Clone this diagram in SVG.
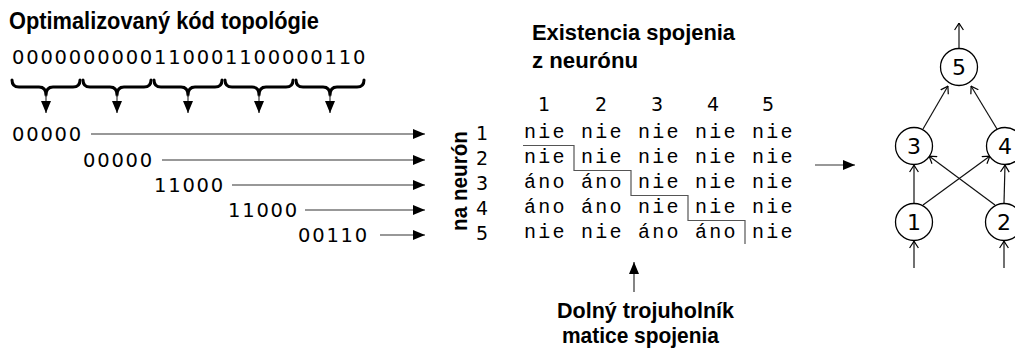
<svg xmlns="http://www.w3.org/2000/svg" width="1015" height="353" viewBox="0 0 1015 353">
  <style>
    .sans { font-family: "Liberation Sans", Arial, sans-serif; font-weight: bold; fill: #000; }
    .dig { font-family: "DejaVu Sans", sans-serif; font-size: 19.5px; letter-spacing: 1.8px; fill: #000; }
    .hdr { font-family: "DejaVu Sans", sans-serif; font-size: 19px; fill: #000; text-anchor: middle; }
    .mat { font-family: "Liberation Mono", "Courier New", monospace; font-size: 20px; letter-spacing: 2.25px; fill: #000; }
    .lbl { font-family: "DejaVu Sans", sans-serif; font-size: 22px; fill: #000; text-anchor: middle; }
    .brace { fill: none; stroke: #000; stroke-width: 3; stroke-linecap: round; stroke-linejoin: round; }
    .shaft { fill: none; stroke: #333; stroke-width: 1.2; }
    .edge { fill: none; stroke: #111; stroke-width: 1.2; }
    .node { fill: #fff; stroke: #000; stroke-width: 1.3; }
    .stair { fill: none; stroke: #555; stroke-width: 1.2; }
  </style>
  <defs>
    <marker id="fa" viewBox="0 0 12 10" refX="12" refY="5" markerWidth="12" markerHeight="10" markerUnits="userSpaceOnUse" orient="auto">
      <path d="M0,0 L12,5 L0,10 z" fill="#000"/>
    </marker>
    <marker id="oa" viewBox="0 0 8 10" refX="7.6" refY="5" markerWidth="8" markerHeight="10" markerUnits="userSpaceOnUse" orient="auto">
      <path d="M0.6,0.6 L7.4,5 L0.6,9.4" fill="none" stroke="#000" stroke-width="1.2"/>
    </marker>
    <path id="brace" d="M0,80 Q0,87 7,87 L27,87 Q34,87 34,95 Q34,87 41,87 L61,87 Q68,87 68,80"/>
  </defs>

  <!-- topology code -->
  <g id="code">
    <text class="sans" x="9" y="29" font-size="23" textLength="310" lengthAdjust="spacingAndGlyphs">Optimalizovaný kód topológie</text>
    <text class="dig" x="12" y="64">0000000000110001100000110</text>
  </g>

  <!-- split into five chunks -->
  <g id="split">
    <use href="#brace" class="brace" x="12"/>
    <use href="#brace" class="brace" x="83"/>
    <use href="#brace" class="brace" x="154"/>
    <use href="#brace" class="brace" x="225"/>
    <use href="#brace" class="brace" x="296"/>
    <line class="shaft" x1="46" y1="95" x2="46" y2="113" marker-end="url(#fa)"/>
    <line class="shaft" x1="117" y1="95" x2="117" y2="113" marker-end="url(#fa)"/>
    <line class="shaft" x1="188" y1="95" x2="188" y2="113" marker-end="url(#fa)"/>
    <line class="shaft" x1="259" y1="95" x2="259" y2="113" marker-end="url(#fa)"/>
    <line class="shaft" x1="330" y1="95" x2="330" y2="113" marker-end="url(#fa)"/>
  </g>

  <!-- chunks, one per target neuron -->
  <g id="chunks">
    <text class="dig" x="12" y="141">00000</text>
    <text class="dig" x="83" y="167">00000</text>
    <text class="dig" x="154" y="192">11000</text>
    <text class="dig" x="228" y="217">11000</text>
    <text class="dig" x="298" y="242">00110</text>
  </g>
  <g id="chunk-arrows">
    <line class="shaft" x1="91" y1="134" x2="425" y2="134" marker-end="url(#fa)"/>
    <line class="shaft" x1="162" y1="160" x2="425" y2="160" marker-end="url(#fa)"/>
    <line class="shaft" x1="232" y1="185" x2="425" y2="185" marker-end="url(#fa)"/>
    <line class="shaft" x1="305" y1="210" x2="425" y2="210" marker-end="url(#fa)"/>
    <line class="shaft" x1="380" y1="235" x2="425" y2="235" marker-end="url(#fa)"/>
  </g>

  <!-- connection matrix -->
  <g id="matrix">
    <text class="sans" x="532" y="40" font-size="22" textLength="203" lengthAdjust="spacingAndGlyphs">Existencia spojenia</text>
    <text class="sans" x="532" y="68" font-size="22" textLength="106" lengthAdjust="spacingAndGlyphs">z neurónu</text>
    <text class="hdr" x="544" y="111">1</text>
    <text class="hdr" x="601" y="111">2</text>
    <text class="hdr" x="657" y="111">3</text>
    <text class="hdr" x="713" y="111">4</text>
    <text class="hdr" x="768" y="111">5</text>
    <text class="sans" font-size="22" text-anchor="middle" transform="translate(467,181) rotate(-90)" textLength="100" lengthAdjust="spacingAndGlyphs">na neurón</text>
    <text class="hdr" x="482" y="140">1</text>
    <text class="hdr" x="482" y="165">2</text>
    <text class="hdr" x="482" y="190">3</text>
    <text class="hdr" x="482" y="215">4</text>
    <text class="hdr" x="482" y="240">5</text>
    <text class="mat" x="524" y="138">nie nie nie nie nie</text>
    <text class="mat" x="524" y="163">nie nie nie nie nie</text>
    <text class="mat" x="524" y="188">áno áno nie nie nie</text>
    <text class="mat" x="524" y="213">áno áno nie nie nie</text>
    <text class="mat" x="524" y="238">nie nie áno áno nie</text>
    <path class="stair" d="M523,145.5 H574 V170.5 H631 V195.5 H688 V220.5 H745 V244"/>
  </g>

  <!-- lower triangle note -->
  <g id="note">
    <line class="shaft" x1="634" y1="292" x2="634" y2="262" marker-end="url(#fa)"/>
    <text class="sans" x="557" y="318" font-size="22" textLength="177" lengthAdjust="spacingAndGlyphs">Dolný trojuholník</text>
    <text class="sans" x="562" y="343" font-size="22" textLength="157" lengthAdjust="spacingAndGlyphs">matice spojenia</text>
  </g>

  <!-- matrix to network -->
  <g id="to-net">
    <line class="shaft" x1="815" y1="165" x2="855" y2="165" marker-end="url(#fa)"/>
  </g>

  <!-- network edges -->
  <g id="edges">
    <line class="edge" x1="914" y1="268" x2="914" y2="241" marker-end="url(#oa)"/>
    <line class="edge" x1="1004" y1="268" x2="1004" y2="241" marker-end="url(#oa)"/>
    <line class="edge" x1="914" y1="203" x2="914" y2="165" marker-end="url(#oa)"/>
    <line class="edge" x1="1004" y1="203" x2="1005" y2="165" marker-end="url(#oa)"/>
    <line class="edge" x1="923" y1="205" x2="990" y2="156" marker-end="url(#oa)"/>
    <line class="edge" x1="995" y1="205" x2="929" y2="156" marker-end="url(#oa)"/>
    <line class="edge" x1="923" y1="129" x2="948" y2="86" marker-end="url(#oa)"/>
    <line class="edge" x1="997" y1="129" x2="971" y2="86" marker-end="url(#oa)"/>
    <line class="edge" x1="959" y1="48" x2="959" y2="23" marker-end="url(#oa)"/>
  </g>

  <!-- network nodes -->
  <g id="n5"><circle class="node" cx="959" cy="67" r="18.5"/><text class="lbl" x="959" y="75">5</text></g>
  <g id="n3"><circle class="node" cx="914" cy="146" r="18.5"/><text class="lbl" x="914" y="154">3</text></g>
  <g id="n4"><circle class="node" cx="1005" cy="146" r="18.5"/><text class="lbl" x="1005" y="154">4</text></g>
  <g id="n1"><circle class="node" cx="914" cy="222" r="18.5"/><text class="lbl" x="914" y="230">1</text></g>
  <g id="n2"><circle class="node" cx="1004" cy="222" r="18.5"/><text class="lbl" x="1004" y="230">2</text></g>
</svg>
